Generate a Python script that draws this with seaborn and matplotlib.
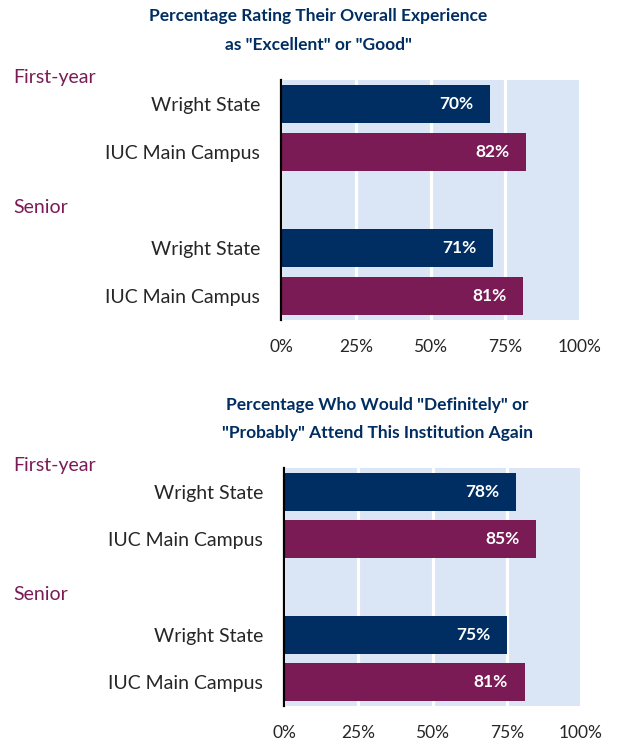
#Recreate: NSSE-style satisfaction bars, two panels
import pandas as pd
import matplotlib
matplotlib.use("Agg")
import matplotlib.pyplot as plt
import matplotlib.transforms as mtransforms
import seaborn as sns

#Data
cohorts = ["First-year", "First-year", "Senior", "Senior"]
institutions = ["Wright State", "IUC Main Campus", "Wright State", "IUC Main Campus"]
experience_pct = [70, 82, 71, 81]
attend_again_pct = [78, 85, 75, 81]
x_ticks = [0, 25, 50, 75, 100]
x_tick_labels = ["0%", "25%", "50%", "75%", "100%"]
top_title = ["Percentage Rating Their Overall Experience", 'as "Excellent" or "Good"']
bottom_title = ['Percentage Who Would "Definitely" or', '"Probably" Attend This Institution Again']

navy = "#002D62"
maroon = "#7B1B55"
panel_bg = "#DAE5F6"
palette = {"Wright State": navy, "IUC Main Campus": maroon}

rows = [c + " | " + i for c, i in zip(cohorts, institutions)]
order = [rows[0], rows[1], "", rows[2], rows[3]]
row_labels = [institutions[0], institutions[1], "", institutions[2], institutions[3]]

sns.set_style("white")
plt.rcParams["font.family"] = ["Lato", "DejaVu Sans"]

fig = plt.figure(figsize=(6.19, 7.4), dpi=100)


def draw_panel(ax, values, title_lines, title_x, title_y, group_y):
    df = pd.DataFrame({"row": rows, "pct": values, "institution": institutions})
    sns.barplot(data=df, x="pct", y="row", order=order, hue="institution",
                palette=palette, dodge=False, width=0.8, legend=False,
                saturation=1, linewidth=0, ax=ax)
    ax.set_facecolor(panel_bg)
    ax.set_xlim(0, 100)
    ax.set_xticks(x_ticks)
    ax.set_xticklabels(x_tick_labels, fontsize=12.5)
    ax.set_yticks(range(len(order)))
    ax.set_yticklabels(row_labels, fontsize=14)
    ax.tick_params(axis="y", length=0, pad=15)
    ax.tick_params(axis="x", length=0, pad=14)
    ax.set_xlabel("")
    ax.set_ylabel("")
    ax.set_axisbelow(True)
    ax.xaxis.grid(True, color="white", linewidth=2.3)
    for side in ["top", "right", "bottom"]:
        ax.spines[side].set_visible(False)
    ax.spines["left"].set_color("black")
    ax.spines["left"].set_linewidth(1.6)

    #value labels inside the bar ends
    for patch in ax.patches:
        w = patch.get_width()
        if w <= 0:
            continue
        yc = patch.get_y() + patch.get_height() / 2
        ax.annotate(f"{w:.0f}%", xy=(w, yc), xytext=(-12, 0),
                    textcoords="offset points", ha="right", va="center",
                    color="white", fontsize=12.5, fontweight="bold")

    #cohort headings on the left
    trans = mtransforms.blended_transform_factory(fig.transFigure, ax.transData)
    for name, yy in zip(["First-year", "Senior"], group_y):
        ax.text(13 / 619, yy, name, transform=trans, ha="left", va="center",
                color=maroon, fontsize=14)

    for line, yy in zip(title_lines, title_y):
        fig.text(title_x, yy, line, ha="center", va="center", color=navy,
                 fontsize=12.5, fontweight="bold")


ax1 = fig.add_axes([281 / 619, 1 - 320 / 740, 299 / 619, 240 / 740])
draw_panel(ax1, experience_pct, top_title, 318 / 619,
           [1 - 16 / 740, 1 - 45 / 740], [-0.55, 2.15])

ax2 = fig.add_axes([284 / 619, 1 - 706 / 740, 297 / 619, 238 / 740])
draw_panel(ax2, attend_again_pct, bottom_title, 377 / 619,
           [1 - 405 / 740, 1 - 433 / 740], [-0.55, 2.15])

plt.savefig("out.png", dpi=100)
